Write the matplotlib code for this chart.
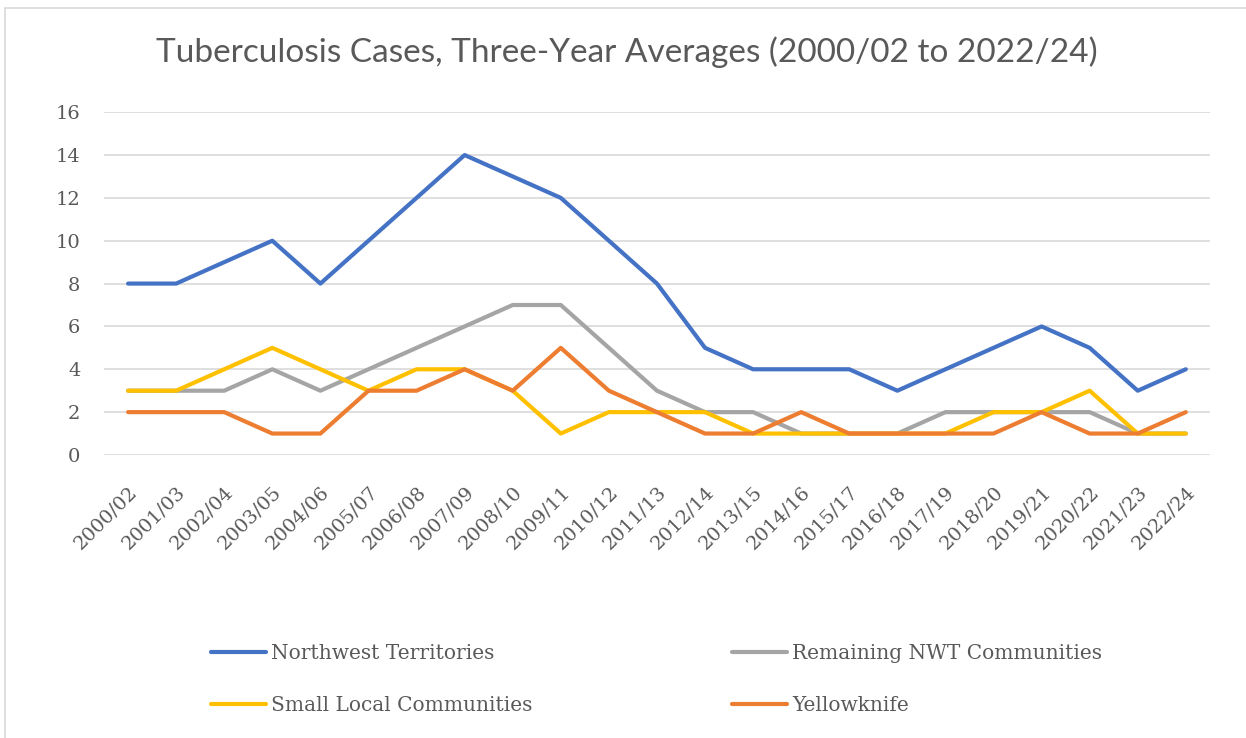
import matplotlib
matplotlib.use('Agg')
import matplotlib.pyplot as plt
from matplotlib.patches import Rectangle

##################### data #####################
periods = ['2000/02', '2001/03', '2002/04', '2003/05', '2004/06', '2005/07', '2006/08',
           '2007/09', '2008/10', '2009/11', '2010/12', '2011/13', '2012/14', '2013/15',
           '2014/16', '2015/17', '2016/18', '2017/19', '2018/20', '2019/21', '2020/22',
           '2021/23', '2022/24']
nwt = [8, 8, 9, 10, 8, 10, 12, 14, 13, 12, 10, 8, 5, 4, 4, 4, 3, 4, 5, 6, 5, 3, 4]
remaining = [3, 3, 3, 4, 3, 4, 5, 6, 7, 7, 5, 3, 2, 2, 1, 1, 1, 2, 2, 2, 2, 1, 1]
small_local = [3, 3, 4, 5, 4, 3, 4, 4, 3, 1, 2, 2, 2, 1, 1, 1, 1, 1, 2, 2, 3, 1, 1]
yellowknife = [2, 2, 2, 1, 1, 3, 3, 4, 3, 5, 3, 2, 1, 1, 2, 1, 1, 1, 1, 2, 1, 1, 2]

series = [('Northwest Territories', nwt, '#4472C4'),
          ('Remaining NWT Communities', remaining, '#A5A5A5'),
          ('Small Local Communities', small_local, '#FFC000'),
          ('Yellowknife', yellowknife, '#ED7D31')]

text_col = '#595959'
plt.rcParams['font.family'] = ['Lato', 'DejaVu Sans']

##################### plot #####################
fig = plt.figure(figsize=(12.46, 7.38), dpi=100)
ax = fig.add_axes([0.0835, 0.3835, 0.8875, 0.4645])

x = list(range(len(periods)))
lines = {}
for name, vals, col in series:
    lines[name], = ax.plot(x, vals, color=col, linewidth=3, label=name,
                           solid_capstyle='round', solid_joinstyle='round')

ax.set_xlim(-0.5, len(periods) - 0.5)
ax.set_ylim(0, 16)
ax.set_yticks(range(0, 17, 2))
ax.set_xticks(x)
ax.set_xticklabels(periods, rotation=45, ha='right', va='top', rotation_mode='anchor')
ax.tick_params(axis='both', length=0, labelsize=14, colors=text_col)
ax.tick_params(axis='x', pad=20)
ax.tick_params(axis='y', pad=17)
for lab in ax.get_xticklabels() + ax.get_yticklabels():
    lab.set_family('DejaVu Serif')
ax.grid(axis='y', color='#D9D9D9', linewidth=1.2)
ax.set_axisbelow(True)
for s in ax.spines.values():
    s.set_visible(False)

fig.text(0.503, 0.929, 'Tuberculosis Cases, Three-Year Averages (2000/02 to 2022/24)',
         ha='center', va='center', fontsize=24, color=text_col)

# legend is filled row by row in the reference
order = ['Northwest Territories', 'Small Local Communities',
         'Remaining NWT Communities', 'Yellowknife']
leg = fig.legend([lines[n] for n in order], order, loc='center',
                 bbox_to_anchor=(0.527, 0.079), ncol=2, frameon=False,
                 prop={'family': 'DejaVu Serif', 'size': 14.5}, handlelength=2.75,
                 columnspacing=9.9, labelspacing=1.62, handletextpad=0.25)
for t in leg.get_texts():
    t.set_color(text_col)

# outer chart border
fig.patches.append(Rectangle((0.004, -0.01), 1.1, 0.999, transform=fig.transFigure,
                             fill=False, edgecolor='#D9D9D9', linewidth=1.2))

plt.savefig('out.png', dpi=100)
